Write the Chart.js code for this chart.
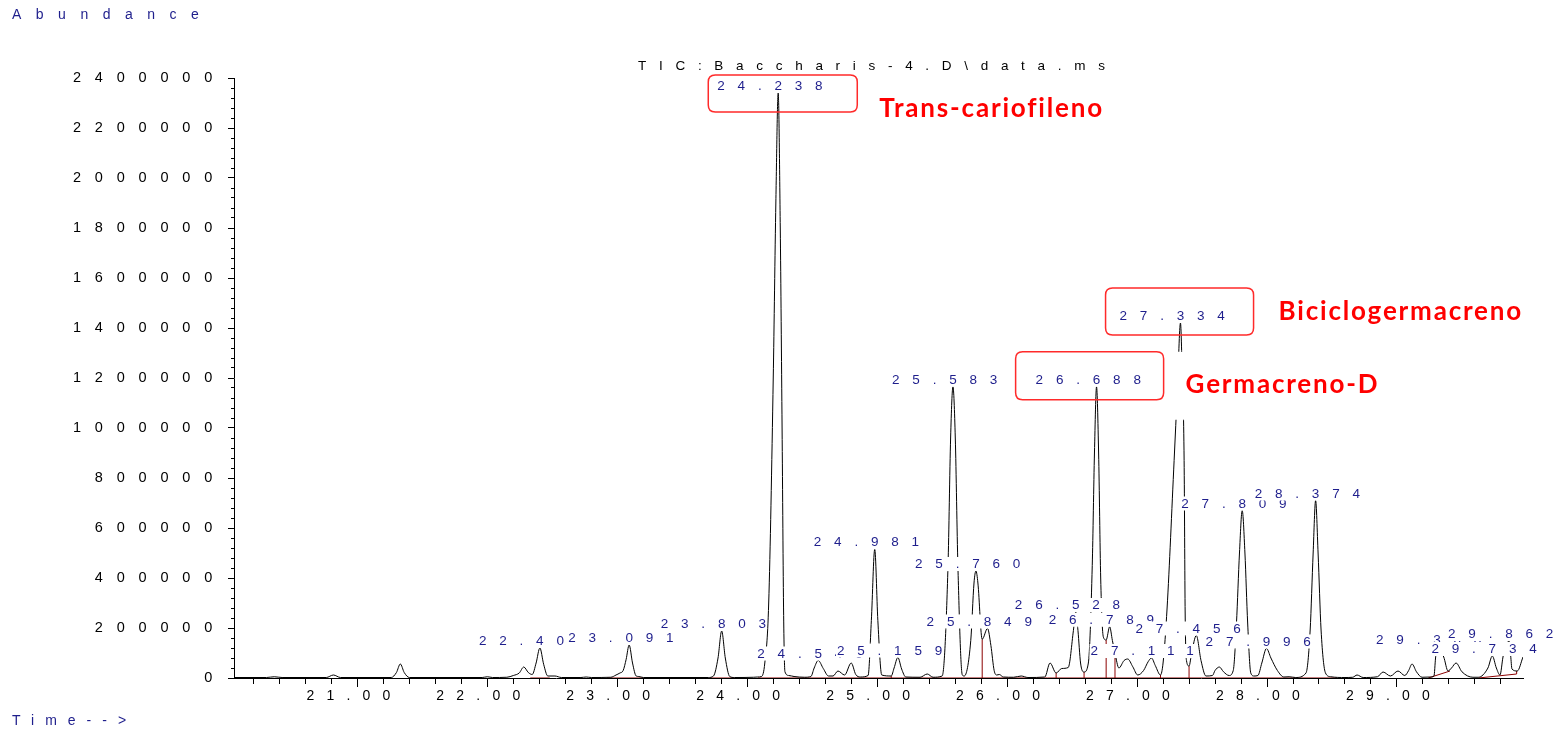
<!DOCTYPE html>
<html>
<head>
<meta charset="utf-8">
<title>TIC: Baccharis-4.D</title>
<script src="https://cdn.jsdelivr.net/npm/chart.js@4.4.0/dist/chart.umd.min.js"></script>
<style>
  html, body { margin: 0; padding: 0; background: #fff; }
  #wrap { width: 1559px; height: 734px; }
</style>
</head>
<body>
<div id="wrap"><canvas id="tic" width="1559" height="734"></canvas></div>
<script>
const SANS = '"Liberation Sans", Arial, sans-serif';
const NAVY = '#1e1e8c';

// total ion current: retention time (min) and abundance
const times = [
  20.05, 20.30, 20.36, 20.42, 20.76, 20.815, 20.87, 21.26, 21.30, 21.33, 21.36, 21.40,
  21.96, 22.00, 22.04, 22.15, 22.20, 22.245, 22.28, 22.315, 22.345, 22.375, 22.404, 22.433,
  22.465, 22.52, 22.57, 22.72, 22.76, 22.80, 22.95, 22.99, 23.02, 23.045, 23.068, 23.091,
  23.117, 23.145, 23.165, 23.20, 23.70, 23.74, 23.775, 23.803, 23.831, 23.865, 23.90, 24.05,
  24.08, 24.11, 24.135, 24.165, 24.20, 24.22, 24.238, 24.254, 24.268, 24.28, 24.29, 24.32,
  24.36, 24.44, 24.49, 24.515, 24.546, 24.585, 24.625, 24.66, 24.698, 24.749, 24.80, 24.835,
  24.87, 24.93, 24.955, 24.981, 25.005, 25.035, 25.108, 25.13, 25.159, 25.188, 25.22, 25.33,
  25.385, 25.43, 25.50, 25.545, 25.565, 25.583, 25.601, 25.621, 25.655, 25.67, 25.72, 25.745,
  25.760, 25.775, 25.808, 25.849, 25.875, 25.90, 25.92, 25.94, 25.97, 26.05, 26.108, 26.16,
  26.29, 26.33, 26.377, 26.42, 26.47, 26.51, 26.528, 26.545, 26.565, 26.592, 26.625, 26.655,
  26.672, 26.688, 26.704, 26.72, 26.74, 26.762, 26.789, 26.81, 26.83, 26.86, 26.90, 26.928,
  26.967, 27.005, 27.05, 27.085, 27.111, 27.14, 27.18, 27.20, 27.231, 27.285, 27.31, 27.334,
  27.348, 27.362, 27.37, 27.38, 27.40, 27.42, 27.456, 27.492, 27.53, 27.58, 27.60, 27.633,
  27.665, 27.708, 27.74, 27.765, 27.788, 27.809, 27.83, 27.851, 27.875, 27.90, 27.93, 27.96,
  27.996, 28.03, 28.08, 28.13, 28.17, 28.22, 28.30, 28.332, 28.355, 28.374, 28.393, 28.416,
  28.45, 28.49, 28.60, 28.66, 28.693, 28.74, 28.85, 28.893, 28.95, 29.008, 29.06, 29.09,
  29.116, 29.15, 29.193, 29.26, 29.285, 29.297, 29.308, 29.33, 29.36, 29.393, 29.42, 29.455,
  29.50, 29.585, 29.626, 29.70, 29.734, 29.765, 29.793, 29.816, 29.835, 29.862, 29.875, 29.885,
  29.926, 29.97
];
const abundance = [
  2000, 2000, 5000, 2000, 2000, 12000, 2000, 2000, 22000, 56000, 22000, 2000,
  2000, 5000, 2000, 3000, 10000, 20000, 44000, 22000, 14000, 60000, 120000, 55000,
  8000, 8000, 2000, 2000, 4000, 2000, 3000, 12000, 20000, 30000, 75000, 132000,
  60000, 8000, 6000, 2000, 2000, 8000, 80000, 188000, 80000, 6000, 2000, 3000,
  4000, 6000, 60000, 300000, 1200000, 1900000, 2340000, 1800000, 1000000, 250000, 25000, 10000,
  6000, 3000, 6000, 40000, 70000, 38000, 8000, 8000, 28000, 12000, 60000, 14000,
  4000, 10000, 230000, 515000, 230000, 12000, 8000, 40000, 82000, 36000, 4000, 3000,
  16000, 3000, 8000, 450000, 960000, 1165000, 960000, 450000, 12000, 8000, 150000, 380000,
  428000, 380000, 155000, 198000, 130000, 30000, 12000, 14000, 4000, 3000, 8000, 2000,
  4000, 60000, 20000, 38000, 42000, 190000, 264000, 190000, 60000, 24000, 60000, 450000,
  900000, 1165000, 900000, 400000, 165000, 152000, 205000, 150000, 100000, 40000, 70000, 76000,
  45000, 12000, 30000, 65000, 80000, 50000, 12000, 60000, 280000, 870000, 1150000, 1420000,
  1200000, 870000, 260000, 70000, 48000, 100000, 170000, 70000, 8000, 10000, 30000, 44000,
  25000, 10000, 30000, 220000, 500000, 670000, 500000, 220000, 20000, 8000, 10000, 60000,
  118000, 80000, 30000, 4000, 5000, 2000, 20000, 192000, 500000, 710000, 500000, 192000,
  20000, 5000, 2000, 3000, 12000, 2000, 5000, 24000, 8000, 28000, 10000, 30000,
  56000, 25000, 3000, 4000, 8000, 80000, 125000, 110000, 84000, 28000, 40000, 60000,
  25000, 3000, 3000, 40000, 88000, 40000, 12000, 84000, 125000, 148000, 90000, 36000,
  28000, 84000
];

// integrated peaks: retention time label and apex abundance
const peakTimes = [
  '22.404', '23.091', '23.803', '24.238', '24.546', '24.981', '25.159', '25.583',
  '25.760', '25.849', '26.528', '26.688', '26.789', '27.111', '27.334', '27.456',
  '27.809', '27.996', '28.374', '29.308', '29.734', '29.862'
];
const peakHeights = [
  120000, 132000, 188000, 2340000, 70000, 515000, 82000, 1165000,
  428000, 198000, 264000, 1165000, 205000, 80000, 1420000, 170000,
  670000, 118000, 710000, 125000, 88000, 148000
];

// identified compounds
const compoundPeaks = ['24.238', '26.688', '27.334'];
const compoundNames = ['Trans-cariofileno', 'Germacreno-D', 'Biciclogermacreno'];

// integration baselines and drop lines, null breaks the line
const baseTimes = [
  22.33, 22.48, 22.48, 22.92, 23.20, 23.20, 23.71, 23.90, 23.90, 24.08, 28.54, 28.54,
  29.241, 29.408, 29.408, 29.626, 29.921, 29.921, 29.921,
  25.108, 25.108, 25.108, 25.808, 25.808, 25.808, 26.377, 26.377, 26.377,
  26.592, 26.592, 26.592, 26.762, 26.762, 26.762, 26.83, 26.83, 26.83,
  27.18, 27.18, 27.18, 27.40, 27.40
];
const baseValues = [
  0, 0, null, 0, 0, null, 0, 0, null, 0, 0, null,
  0, 28000, null, 0, 16000, 28000, null,
  0, 8000, null, 0, 155000, null, 0, 20000, null,
  0, 24000, null, 0, 152000, null, 0, 100000, null,
  0, 12000, null, 0, 48000
];

const timeTicks = [21, 22, 23, 24, 25, 26, 27, 28, 29];
const abundanceTicks = [0, 200000, 400000, 600000, 800000, 1000000, 1200000,
  1400000, 1600000, 1800000, 2000000, 2200000, 2400000];

// red boxes round the compound labels, offsets from the label text origin
const calloutLayout = [
  { box: [-9, -15, 149, 37], text: [162, 19] },
  { box: [-20, -32, 148, 48], text: [150, 1] },
  { box: [-14, -32, 148, 47], text: [159, -8] }
];

function roundedRect(ctx, x, y, w, h, r) {
  ctx.beginPath();
  ctx.moveTo(x + r, y);
  ctx.lineTo(x + w - r, y);
  ctx.quadraticCurveTo(x + w, y, x + w, y + r);
  ctx.lineTo(x + w, y + h - r);
  ctx.quadraticCurveTo(x + w, y + h, x + w - r, y + h);
  ctx.lineTo(x + r, y + h);
  ctx.quadraticCurveTo(x, y + h, x, y + h - r);
  ctx.lineTo(x, y + r);
  ctx.quadraticCurveTo(x, y, x + r, y);
  ctx.closePath();
}

// ChemStation style: wide letter spacing, labels on opaque white
const chemStation = {
  id: 'chemStation',
  beforeDraw(chart) {
    chart.ctx.letterSpacing = '12.2px';   // time axis labels
  },
  beforeDatasetsDraw(chart) {
    chart.ctx.letterSpacing = '13.8px';   // abundance labels (ticks.z = 1)
  },
  afterDraw(chart) {
    const ctx = chart.ctx;
    const xs = chart.scales.x, ys = chart.scales.y;
    const area = chart.chartArea;
    ctx.save();

    // retention time labels above each peak
    const sp = 12.8;
    ctx.font = '13.5px ' + SANS;
    ctx.letterSpacing = sp + 'px';
    ctx.textAlign = 'left';
    ctx.textBaseline = 'alphabetic';
    const anchors = {};
    peakTimes.forEach((label, i) => {
      const px = xs.getPixelForValue(Number(label));
      const py = ys.getPixelForValue(peakHeights[i]) - 3;
      const lead = ctx.measureText(label.slice(0, 3)).width + (ctx.measureText(label[3]).width - sp) / 2;
      const x0 = px - lead;
      const w = ctx.measureText(label).width - sp;
      ctx.fillStyle = '#fff';
      ctx.fillRect(x0 - 1, py - 11, w + 2, 14);
      ctx.fillStyle = NAVY;
      ctx.fillText(label, x0, py);
      anchors[label] = [x0, py];
    });

    // compound names
    compoundPeaks.forEach((label, i) => {
      const [x0, py] = anchors[label];
      const lay = calloutLayout[i];
      ctx.letterSpacing = '0px';
      ctx.strokeStyle = '#ff2a2a';
      ctx.lineWidth = 1.5;
      roundedRect(ctx, x0 + lay.box[0], py + lay.box[1], lay.box[2], lay.box[3], 7);
      ctx.stroke();
      const tx = x0 + lay.text[0], ty = py + lay.text[1];
      ctx.fillStyle = '#fff';
      ctx.fillRect(tx - 14, ty - 33, 250, 68);
      ctx.font = 'bold 26px Lato, "Open Sans", sans-serif';
      ctx.letterSpacing = '1.8px';
      ctx.textBaseline = 'middle';
      ctx.fillStyle = '#ff0000';
      ctx.fillText(compoundNames[i], tx, ty);
      ctx.textBaseline = 'alphabetic';
      ctx.font = '13.5px ' + SANS;
    });

    // header and axis captions
    ctx.font = '13.5px ' + SANS;
    ctx.letterSpacing = '12.7px';
    ctx.fillStyle = '#000';
    const title = 'TIC:Baccharis-4.D\\data.ms';
    const tw = ctx.measureText(title).width - 12.7;
    ctx.fillText(title, (area.left + area.right) / 2 - tw / 2 - 7, 70);

    ctx.font = '14px ' + SANS;
    ctx.fillStyle = NAVY;
    ctx.letterSpacing = '14.5px';
    ctx.fillText('Abundance', 12, 19);
    ctx.letterSpacing = '11px';
    ctx.fillText('Time-->', 12, 725);

    ctx.restore();
    ctx.letterSpacing = '0px';
  }
};

new Chart(document.getElementById('tic'), {
  type: 'line',
  data: {
    datasets: [
      {
        label: 'TIC',
        data: times.map((t, i) => ({ x: t, y: abundance[i] })),
        borderColor: '#000',
        borderWidth: 1,
        pointRadius: 0,
        cubicInterpolationMode: 'monotone',
        fill: false
      },
      {
        label: 'baseline',
        data: baseTimes.map((t, i) => ({ x: t, y: baseValues[i] })),
        borderColor: '#8c0000',
        borderWidth: 1,
        pointRadius: 0,
        tension: 0,
        spanGaps: false,
        fill: false
      }
    ]
  },
  options: {
    responsive: false,
    animation: false,
    devicePixelRatio: 1,
    layout: { padding: { left: 0, top: 78, right: 36, bottom: 0 } },
    plugins: { legend: { display: false }, tooltip: { enabled: false }, title: { display: false } },
    scales: {
      x: {
        type: 'linear',
        min: 20.05,
        max: 29.97,
        afterBuildTicks(scale) {
          const ticks = [];
          for (let v = 20.2; v < 29.9; v += 0.2) ticks.push({ value: Math.round(v * 10) / 10 });
          scale.ticks = ticks;
        },
        afterFit(scale) {
          scale.height = 56;
          scale.paddingLeft = 0;
          scale.paddingRight = 0;
        },
        ticks: {
          autoSkip: false,
          maxRotation: 0,
          padding: 1,
          labelOffset: -3,
          color: '#000',
          font: { family: SANS, size: 14 },
          callback: (v) => timeTicks.includes(v) ? v.toFixed(2) : ''
        },
        grid: {
          drawOnChartArea: false,
          drawTicks: true,
          tickLength: 9,
          tickColor: '#000',
          tickBorderDash: (c) => timeTicks.includes(c.tick.value) ? [] : [5, 20]
        },
        border: { color: '#000', width: 1 }
      },
      y: {
        min: 0,
        max: 2400000,
        afterBuildTicks(scale) {
          const ticks = [];
          for (let v = 0; v <= 2400000; v += 40000) ticks.push({ value: v });
          scale.ticks = ticks;
        },
        afterFit(scale) {
          scale.width = 234;
          scale.paddingTop = 0;
          scale.paddingBottom = 0;
        },
        ticks: {
          z: 1,
          autoSkip: false,
          padding: 2,
          color: '#000',
          font: { family: SANS, size: 14.5 },
          callback: (v) => abundanceTicks.includes(v) ? String(v) : ''
        },
        grid: {
          drawOnChartArea: false,
          drawTicks: true,
          tickLength: 6,
          tickColor: '#000',
          tickBorderDash: (c) => abundanceTicks.includes(c.tick.value) ? [] : [0, 3, 3, 20]
        },
        border: { color: '#000', width: 1 }
      }
    }
  },
  plugins: [chemStation]
});
</script>
</body>
</html>
